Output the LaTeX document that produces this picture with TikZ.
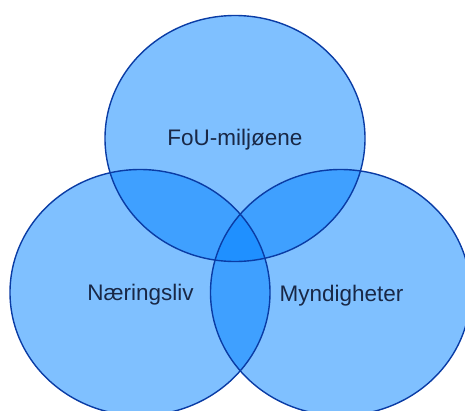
\documentclass[tikz,border=0pt]{standalone}
\usepackage{fontspec}
\setmainfont{Liberation Sans}
\definecolor{vfill}{RGB}{0,129,255}
\definecolor{vedge}{RGB}{10,60,165}
\definecolor{vtext}{RGB}{25,40,70}
\tikzset{
  vset/.style={ellipse, minimum width=260pt, minimum height=246pt, inner sep=0pt},
  vlabel/.style={font=\fontsize{22.5}{26}\selectfont, text=vtext, anchor=base, inner sep=0pt}
}
\usetikzlibrary{shapes.geometric}
\begin{document}
\begin{tikzpicture}[x=1pt,y=-1pt]
\useasboundingbox (0,0) rectangle (465,410);
\begin{scope}
\clip (0,0) rectangle (465,410);
\node[vset, fill=vfill, fill opacity=0.5] (top) at (235,138.5) {};
\node[vset, fill=vfill, fill opacity=0.5] (left) at (140,292.5) {};
\node[vset, fill=vfill, fill opacity=0.5] (right) at (340.5,292.5) {};
\node[vset, draw=vedge, line width=1.4pt] at (top) {};
\node[vset, draw=vedge, line width=1.4pt] at (left) {};
\node[vset, draw=vedge, line width=1.4pt] at (right) {};
\end{scope}
\node[vlabel] (lt) at (235,145.5) {FoU-miljøene};
\node[vlabel] (ll) at (140.5,300) {Næringsliv};
\node[vlabel] (lr) at (341.5,301.5) {Myndigheter};
\end{tikzpicture}
\end{document}
